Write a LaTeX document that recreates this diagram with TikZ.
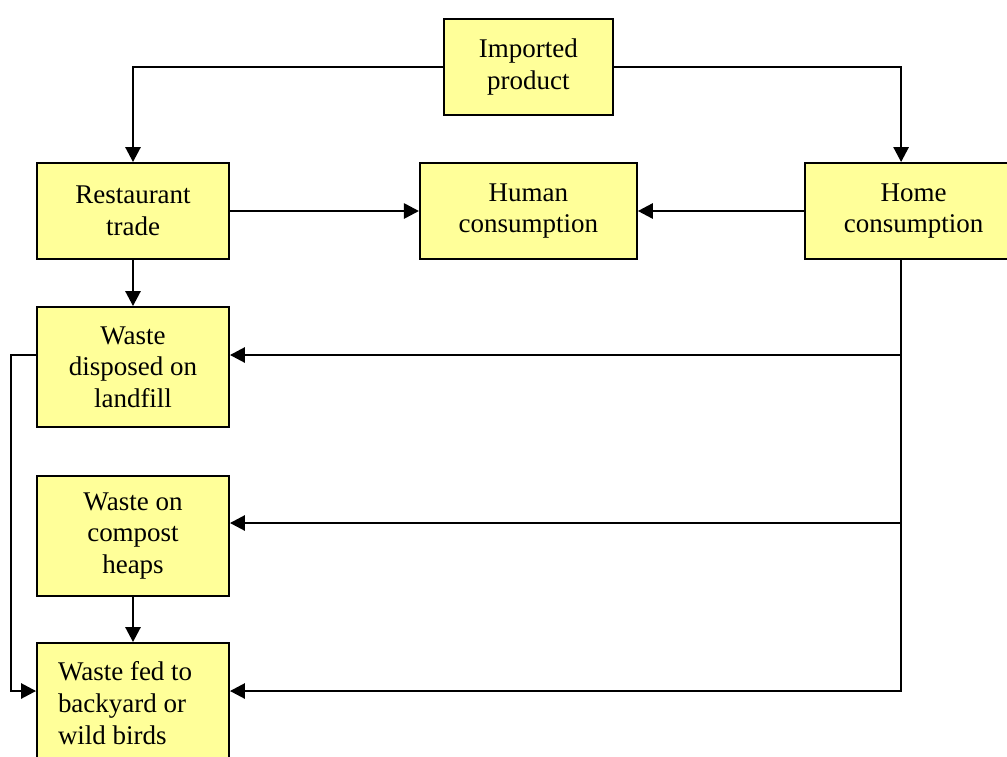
\documentclass[tikz,border=0pt]{standalone}
\usepackage{fontspec}
\setmainfont{Liberation Serif}
\usepackage{xcolor}
\usepackage{tikz}
\usetikzlibrary{arrows.meta}
\definecolor{boxyellow}{RGB}{255,255,153}

\begin{document}
\begin{tikzpicture}[
    box/.style={shape=rectangle, draw, line width=1.3pt, fill=boxyellow, align=center,
      minimum width=4.8cm, minimum height=2.4cm, inner sep=2pt,
      font=\fontsize{19.2}{22.5}\selectfont},
    tall/.style={box, minimum height=3cm},
    arr/.style={line width=1.9pt, -{Triangle[length=0.375cm,width=0.375cm]}},
    ln/.style={line width=1.9pt}]
    \useasboundingbox (0,0) rectangle (25.175,-18.9);
    \clip (0,0) rectangle (25.175,-18.9);

    \node[box, minimum width=4.225cm] (imp) at (13.21,-1.675) {Imported\\product};
    \node[box] (rest) at (3.325,-5.275) {Restaurant\\trade};
    \node[box, minimum width=5.425cm] (hum) at (13.21,-5.275) {Human\\consumption};
    \node[box, minimum width=5.425cm] (home) at (22.84,-5.275) {Home\\consumption};
    \node[tall] (land) at (3.325,-9.175) {Waste\\disposed on\\landfill};
    \node[tall] (comp) at (3.325,-13.4) {Waste on\\compost\\heaps};
    \node[tall, align=flush left, text width=3.75cm, inner xsep=0.525cm] (bird) at (3.325,-17.575)
      {Waste fed to\\backyard or\\wild birds};

    % trunk from home consumption
    \coordinate (t1) at (22.525,-8.875);
    \coordinate (t2) at (22.525,-13.075);
    \coordinate (t3) at (22.525,-17.275);

    \draw[arr] (imp.west) -| (rest.north);
    \draw[arr] (imp.east) -| ([xshift=-0.3125cm]home.north);
    \draw[arr] (rest.east) -- (hum.west);
    \draw[arr] (home.west) -- (hum.east);
    \draw[arr] (rest.south) -- (land.north);
    \draw[arr] (comp.south) -- (bird.north);

    \draw[arr] ([xshift=-0.3125cm]home.south) |- (t3 -| bird.east);
    \draw[arr] (t1) -- (t1 -| land.east);
    \draw[arr] (t2) -- (t2 -| comp.east);

    \draw[arr] (t1 -| land.west) -- ++(-0.625,0) |- (t3 -| bird.west);
  \end{tikzpicture}
\end{document}
